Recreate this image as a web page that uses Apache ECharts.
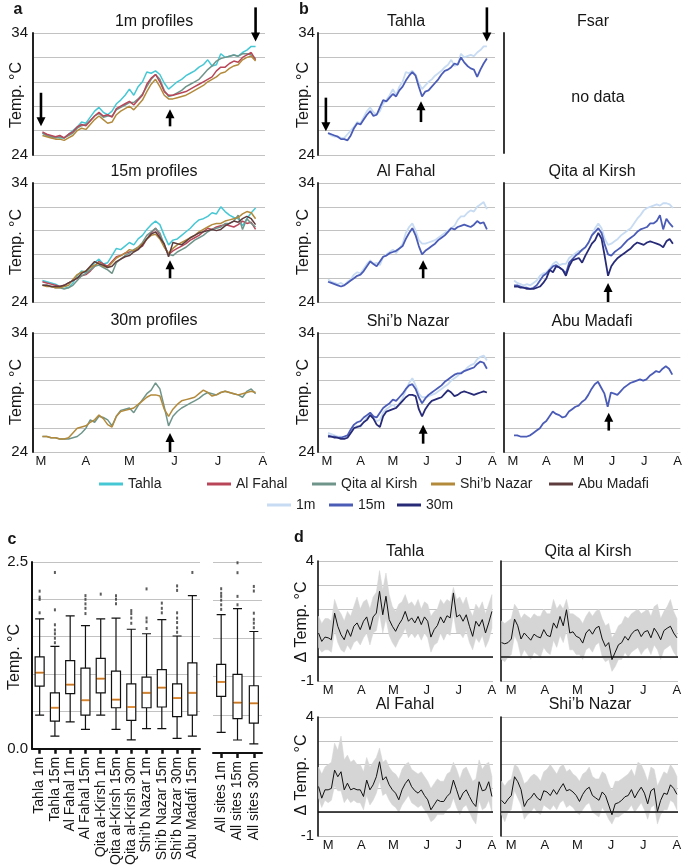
<!DOCTYPE html>
<html><head><meta charset="utf-8">
<script src="https://cdn.jsdelivr.net/npm/echarts@6/dist/echarts.min.js"></script>
<style>html,body{margin:0;padding:0;background:#fff}#c{width:685px;height:868px}</style>
</head><body><div id="c"></div>
<script>
// ---------- DATA ----------
// day offsets from 1 March (panels a, b)
const days = [1,4,7,10,13,16,19,22,25,28,31,34,37,40,43,46,49,52,55,58,61,64,67,70,73,76,79,82,85,88,91,94,97,100,103,106,109,112,115,118,121,124,127,130,133,136,139,142,145,148];
const tahla1m  = [25.8,25.6,25.5,25.5,25.4,25.4,25.7,26.0,26.3,26.7,26.6,27.1,27.6,27.9,27.5,27.3,27.6,28.2,28.5,28.9,29.4,28.9,29.6,30.0,30.8,30.7,30.9,30.6,29.9,29.4,29.7,30.0,30.2,30.5,30.7,30.9,31.2,31.4,31.8,31.3,31.4,32.3,32.0,32.1,32.2,32.1,32.4,32.6,32.9,32.9];
const tahla15m = [25.8,25.7,25.6,25.5,25.3,25.3,25.2,25.6,26.2,26.6,26.5,26.9,27.3,27.6,27.2,27.3,27.9,28.5,28.4,28.7,29.0,28.8,29.3,29.6,30.1,30.5,30.8,30.5,29.6,28.8,29.2,29.3,29.6,29.9,30.2,30.6,30.9,31.0,31.2,31.5,31.4,32.0,31.6,31.3,31.1,31.0,30.4,31.0,31.5,31.9];
const fahal1m  = [25.9,25.7,25.6,25.5,25.6,25.4,25.7,25.9,26.3,26.5,26.4,26.8,27.2,27.5,27.2,27.3,27.1,27.8,28.0,28.2,28.4,28.1,28.5,28.9,29.8,30.3,30.6,30.0,29.2,28.9,28.9,29.0,29.1,29.2,29.4,29.6,29.8,30.0,30.2,30.4,30.9,31.2,31.2,31.5,31.7,31.6,32.0,32.2,32.4,31.8];
const fahal15m = [25.7,25.6,25.5,25.4,25.3,25.4,25.6,25.8,26.0,26.2,26.3,26.6,27.0,27.4,27.2,27.0,27.4,27.8,27.9,28.1,28.2,28.3,28.5,28.7,29.3,29.8,30.2,29.6,28.7,28.0,28.3,28.5,28.7,28.9,29.2,29.4,29.6,29.9,30.2,30.1,30.3,30.4,30.5,30.4,30.3,30.5,30.8,30.6,30.7,30.1];
const qita1m   = [25.8,25.6,25.5,25.4,25.5,25.4,25.6,25.8,26.2,26.4,26.5,26.8,27.2,27.4,27.1,27.2,27.2,27.7,27.9,28.1,28.3,28.3,28.6,29.0,29.6,30.2,30.6,30.2,29.3,28.8,28.9,29.1,29.3,29.6,29.8,30.0,30.2,30.6,31.0,31.3,31.7,31.9,32.0,32.1,32.2,32.1,32.3,32.3,32.2,31.9];
const qita15m  = [25.4,25.4,25.3,25.2,25.2,25.1,25.2,25.4,25.8,26.2,26.4,26.7,27.0,27.1,26.9,26.7,26.4,27.3,27.6,27.9,28.1,28.4,28.6,29.0,29.6,29.9,30.2,29.8,28.8,28.0,27.9,28.2,28.4,28.6,28.9,29.2,29.4,29.6,29.9,30.1,30.2,30.3,30.6,30.6,30.8,31.3,30.1,31.0,30.6,30.3];
const qita30m  = [25.3,25.3,25.2,25.2,25.1,25.1,25.1,25.2,25.3,25.6,26.0,26.7,26.5,27.0,26.9,26.7,26.2,27.0,27.5,27.6,27.7,27.3,27.9,28.4,28.9,29.2,29.8,29.3,27.8,26.2,27.0,27.4,27.7,27.9,28.1,28.3,28.5,28.8,29.0,28.9,28.8,29.0,29.1,29.0,28.9,28.8,28.6,29.1,29.3,28.9];
const shib1m   = [25.6,25.5,25.4,25.3,25.3,25.2,25.4,25.6,26.0,26.2,26.1,26.5,26.9,27.2,26.9,26.6,26.7,27.3,27.6,27.8,28.0,27.7,28.1,28.5,29.2,29.8,30.2,29.6,28.9,28.6,28.6,28.7,28.8,28.9,29.1,29.3,29.5,29.7,30.0,30.2,30.4,30.7,30.8,31.1,31.3,31.4,31.8,32.0,32.1,31.7];
const shib15m  = [25.4,25.3,25.3,25.2,25.2,25.3,25.4,25.9,26.3,26.5,26.6,26.9,27.1,27.3,27.0,26.9,27.3,27.7,27.9,28.1,28.4,28.3,28.6,28.9,29.3,29.6,29.7,29.3,28.6,28.1,28.5,28.8,29.0,29.2,29.4,29.6,29.9,30.1,30.3,30.5,30.6,30.6,30.8,30.9,31.0,31.1,31.4,31.6,31.5,31.0];
const shib30m  = [25.3,25.3,25.2,25.2,25.1,25.1,25.2,25.6,26.0,26.1,26.2,26.5,26.7,27.1,26.8,26.3,26.1,27.0,27.4,27.5,27.6,27.7,28.0,28.3,28.6,28.8,28.8,28.7,27.6,27.0,27.6,28.0,28.3,28.4,28.5,28.6,28.9,29.2,29.0,28.7,28.8,29.0,29.1,29.0,28.9,28.8,28.9,29.0,29.1,29.0];
const abu15m   = [25.4,25.4,25.3,25.3,25.3,25.4,25.6,25.8,26.0,26.4,26.6,27.0,27.4,27.2,27.1,26.9,27.0,27.4,27.6,27.8,27.9,28.2,28.4,28.8,29.3,29.7,29.9,29.4,28.9,27.8,29.0,28.9,28.8,29.1,29.4,29.6,29.8,29.9,30.0,30.1,30.0,30.1,30.4,30.6,30.8,30.7,31.0,31.2,31.0,30.5];

const monthTicks  = [0,31,61,92,122,153];
const monthLabels = ['M','A','M','J','J','A'];

// panel c
const boxCats = ['Tahla 1m','Tahla 15m','Al Fahal 1m','Al Fahal 15m','Qita al-Kirsh 1m','Qita al-Kirsh 15m','Qita al-Kirsh 30m','Shi\u2019b Nazar 1m','Shi\u2019b Nazar 15m','Shi\u2019b Nazar 30m','Abu Madafi 15m'];
const boxStats = [
  [0.45,0.84,1.02,1.23,1.74],[0.17,0.37,0.55,0.75,1.37],[0.36,0.74,0.86,1.18,1.78],[0.26,0.45,0.65,1.08,1.65],
  [0.45,0.75,0.94,1.21,1.74],[0.26,0.55,0.66,1.04,1.75],[0.12,0.38,0.56,0.87,1.60],[0.27,0.55,0.75,0.96,1.54],
  [0.27,0.56,0.82,1.06,1.73],[0.14,0.43,0.68,0.87,1.51],[0.17,0.45,0.75,1.15,2.05]];
const boxOutliers = [
  [0,1.82],[0,2.0],[0,2.03],[0,2.11],
  [1,1.42],[1,1.48],[1,1.54],[1,1.59],[1,1.66],[1,1.86],[1,2.36],[1,2.57],
  [3,1.81],[3,1.88],[3,1.94],[3,2.0],[3,2.05],
  [4,2.07],
  [5,1.94],[5,2.0],[5,2.05],
  [6,1.68],[6,1.75],[6,1.81],[6,1.85],
  [7,1.61],[7,1.70],[7,1.75],[7,2.14],
  [8,1.82],[8,1.88],[8,1.95],
  [9,1.56],[9,1.62],[9,1.69],[9,1.75],[9,1.82],[9,2.12],[9,2.18],
  [10,2.36]];
const allCats = ['All sites 1m','All sites 15m','All sites 30m'];
const allStats = [[0.27,0.74,0.93,1.16,1.81],[0.17,0.45,0.66,1.03,1.89],[0.12,0.39,0.65,0.88,1.59]];
const allOutliers = [[0,1.88],[0,1.94],[0,2.0],[0,2.05],[0,2.09],[0,2.15],
  [1,1.94],[1,2.05],[1,2.36],[1,2.49],[1,2.57],
  [2,1.64],[2,1.70],[2,1.75],[2,1.83],[2,2.12],[2,2.18]];

// panel d (day offsets from 1 March)
const dDays = [-9,-6,-3,0,3,6,9,12,15,18,21,24,27,30,33,36,39,42,45,48,51,54,57,60,63,66,69,72,75,78,81,84,87,90,93,96,99,102,105,108,111,114,117,120,123,126,129,132,135,138,141,144,147,150,153];
const dTahla     = [1.0,0.65,0.83,0.8,0.72,1.83,1.28,0.93,0.72,1.14,0.86,1.28,1.42,1.14,1.49,1.67,1.14,1.67,1.83,2.74,1.76,2.53,1.56,1.28,1.07,1.35,1.56,1.9,1.49,1.63,1.42,1.69,1.35,1.67,1.49,0.83,1.14,1.31,1.67,1.42,1.72,1.63,2.67,1.67,1.76,1.49,1.76,1.28,0.86,1.49,1.28,1.56,1.0,1.42,1.9];
const dTahlaHigh = [1.7,1.4,1.6,1.6,1.5,2.4,2.0,1.8,1.5,1.9,1.7,2.1,2.5,2.0,2.3,2.4,2.0,2.5,2.7,3.6,2.8,3.5,2.6,2.1,1.9,2.2,2.3,2.6,2.2,2.3,2.1,2.4,2.0,2.3,2.2,1.7,1.9,2.0,2.4,2.2,2.4,2.3,2.9,2.4,2.5,2.2,2.5,2.0,1.7,2.2,2.0,2.3,1.8,2.2,2.6];
const dTahlaLow  = [0.4,0.2,0.3,0.3,0.2,1.1,0.6,0.3,0.2,0.5,0.3,0.6,0.7,0.5,0.8,1.0,0.5,1.0,1.1,1.8,1.0,1.6,0.9,0.6,0.4,0.7,0.9,1.2,0.8,1.0,0.8,1.0,0.7,1.0,0.8,0.2,0.5,0.6,1.0,0.7,1.0,0.9,1.8,1.0,1.0,0.8,1.1,0.6,0.3,0.8,0.6,0.9,0.4,0.7,1.2];
const dQita      = [0.6,0.55,0.6,0.75,1.58,1.3,0.75,1.0,0.85,0.7,0.95,0.85,0.8,1.14,0.9,0.85,1.42,1.2,1.69,1.3,1.97,1.0,1.05,0.86,0.8,0.58,1.0,1.15,0.95,1.2,1.28,0.75,0.44,0.6,-0.11,0.2,0.51,0.6,0.86,0.7,0.95,1.1,1.14,0.85,1.05,1.1,0.8,1.2,1.0,0.72,1.1,1.2,1.28,1.0,0.8];
const dQitaHigh  = [1.5,1.4,1.5,1.6,2.2,2.0,1.6,1.8,1.7,1.6,1.8,1.7,1.7,2.0,1.8,1.8,2.4,2.0,2.2,2.0,2.4,1.8,1.8,1.7,1.6,1.4,1.7,1.9,1.7,1.9,2.0,1.6,1.3,1.4,0.8,1.0,1.3,1.4,1.7,1.6,1.8,1.9,2.0,1.8,1.9,2.0,1.7,2.1,2.2,1.6,1.9,2.1,2.4,1.9,1.6];
const dQitaLow   = [-0.1,-0.2,0.0,0.1,0.9,0.6,0.0,0.3,0.1,-0.1,0.2,0.1,0.0,0.4,0.2,0.1,0.7,0.4,0.9,0.6,1.1,0.3,0.3,0.1,0.1,-0.1,0.3,0.4,0.2,0.5,0.6,0.0,-0.2,-0.1,-0.6,-0.4,-0.1,-0.1,0.2,0.0,0.2,0.3,0.4,0.1,0.3,0.4,0.1,0.5,0.3,-0.1,0.3,0.4,0.5,0.2,0.0];
const dFahal     = [1.08,0.59,0.94,0.94,1.0,1.77,1.49,1.7,0.94,1.22,0.94,1.0,0.94,0.94,0.66,1.35,0.94,1.15,1.49,2.12,1.35,1.49,1.15,0.94,0.8,0.52,0.94,1.2,1.38,1.07,0.9,0.8,0.94,0.7,0.52,0.1,0.31,0.52,0.45,0.45,0.66,0.8,1.35,0.94,0.52,0.8,0.94,0.66,0.4,0.24,1.28,0.9,0.94,1.28,0.66];
const dFahalHigh = [1.9,1.6,1.9,2.0,2.1,2.9,2.6,3.2,2.2,2.4,2.1,2.2,2.0,2.0,1.7,2.3,1.9,2.1,2.3,2.7,2.1,2.2,1.9,1.7,1.6,1.4,1.8,2.0,2.1,1.8,1.7,1.6,1.7,1.5,1.3,1.0,1.2,1.4,1.3,1.3,1.6,1.7,2.1,1.8,1.4,1.8,1.9,1.6,1.3,1.4,2.2,1.8,2.0,2.1,1.5];
const dFahalLow  = [0.6,0.2,0.5,0.4,0.5,1.1,0.9,0.9,0.4,0.6,0.4,0.5,0.4,0.4,0.1,0.7,0.3,0.5,0.8,1.3,0.7,0.8,0.5,0.3,0.2,0.0,0.3,0.5,0.7,0.4,0.3,0.2,0.3,0.1,-0.1,-0.4,-0.3,-0.1,-0.1,-0.1,0.1,0.2,0.6,0.2,-0.1,0.2,0.3,0.0,-0.3,-0.5,0.5,0.1,0.2,0.5,0.0];
const dShib      = [0.5,0.35,0.55,0.7,1.49,1.28,0.95,0.24,0.5,0.6,0.8,0.6,0.5,0.9,0.85,0.7,0.95,0.75,1.0,1.2,0.9,0.95,0.85,0.7,0.45,0.75,0.95,1.05,0.7,0.6,0.5,0.85,0.7,0.3,-0.11,0.35,0.4,0.5,0.65,0.7,0.95,0.6,0.85,1.05,0.8,0.35,0.9,1.0,0.03,0.5,0.8,0.75,1.15,1.0,0.75];
const dShibHigh  = [1.3,1.1,1.3,1.4,2.0,1.9,1.6,1.2,1.3,1.5,1.6,1.5,1.3,1.7,1.8,2.0,1.8,1.6,1.9,2.0,1.7,1.8,1.6,1.5,1.3,1.6,1.7,1.9,1.5,1.4,1.4,1.7,1.6,1.2,0.9,1.3,1.3,1.4,1.5,1.6,1.8,1.5,2.1,2.0,1.7,1.3,1.9,1.8,1.1,1.4,1.7,1.6,2.0,1.8,1.5];
const dShibLow   = [-0.1,-0.4,0.0,0.1,0.9,0.6,0.3,-0.3,-0.1,0.0,0.2,0.0,-0.1,0.3,0.2,0.1,0.3,0.1,0.4,0.5,0.2,0.3,0.2,0.0,-0.1,0.1,0.3,0.4,0.0,-0.1,-0.2,0.2,0.0,-0.3,-0.5,-0.2,-0.2,-0.1,0.0,0.1,0.3,0.0,0.2,0.4,0.1,-0.3,0.2,0.3,-0.5,-0.1,0.1,0.1,0.5,0.4,0.1];

// ---------- STYLE / LAYOUT ----------
const FONT = '"Liberation Sans", Arial, sans-serif';
const INK = '#151515';
const GRIDC = '#c2c2c2';
const COL = {tahla:'#46c7d4', fahal:'#b84658', qita:'#6f958b', shib:'#b38a3b', abu:'#5e3c3d', m1:'#c7dbf2', m15:'#4b5cb7', m30:'#272b77'};

const grids = [], xAxes = [], yAxes = [], series = [];
function addGrid(g, x, y) { grids.push(g); const i = grids.length - 1; xAxes.push(Object.assign({gridIndex: i}, x)); yAxes.push(Object.assign({gridIndex: i}, y)); return i; }

function monthX(min, max, show) {
  return {type:'value', min, max, axisLine:{show:false, onZero:false}, axisTick:{show:false}, splitLine:{show:false},
    axisLabel:{show:show, customValues:monthTicks, formatter:v => monthLabels[monthTicks.indexOf(v)] || '', margin:3, fontSize:13, color:INK, fontFamily:FONT}};
}
function tempY(showLabels, margin, aw) {
  return {type:'value', min:24, max:34, interval:2,
    axisLine:{show:true, onZero:false, lineStyle:{color:'#222', width:aw}}, axisTick:{show:false},
    splitLine:{show:true, lineStyle:{color:GRIDC, width:1.2}},
    axisLabel:{show:showLabels, margin:margin, fontSize:15, color:INK, fontFamily:FONT, formatter:v => (v === 34 || v === 24) ? String(v) : ''}};
}
function line(name, gi, xs, ys, color, w) {
  return {type:'line', name, xAxisIndex:gi, yAxisIndex:gi, data:xs.map((x, i) => [x, ys[i]]),
    symbol:'none', showSymbol:false, lineStyle:{color, width:w}, itemStyle:{color}, clip:true, animation:false};
}

// panel a
const aX = [-5.5, 154.5];
const gA1 = addGrid({left:33, top:33, width:232, height:122}, monthX(aX[0], aX[1], false), tempY(true, 5, 2));
const gA2 = addGrid({left:33, top:183, width:232, height:119}, monthX(aX[0], aX[1], false), tempY(true, 5, 2));
const gA3 = addGrid({left:33, top:333, width:232, height:119}, monthX(aX[0], aX[1], true), tempY(true, 5, 2));
series.push(line('Tahla', gA1, days, tahla1m, COL.tahla, 1.5));
series.push(line('Qita al Kirsh', gA1, days, qita1m, COL.qita, 1.5));
series.push(line('Al Fahal', gA1, days, fahal1m, COL.fahal, 1.5));
series.push(line('Shi\u2019b Nazar', gA1, days, shib1m, COL.shib, 1.5));
series.push(line('Tahla', gA2, days, tahla15m, COL.tahla, 1.5));
series.push(line('Al Fahal', gA2, days, fahal15m, COL.fahal, 1.5));
series.push(line('Qita al Kirsh', gA2, days, qita15m, COL.qita, 1.5));
series.push(line('Shi\u2019b Nazar', gA2, days, shib15m, COL.shib, 1.5));
series.push(line('Abu Madafi', gA2, days, abu15m, COL.abu, 1.5));
series.push(line('Qita al Kirsh', gA3, days, qita30m, COL.qita, 1.5));
series.push(line('Shi\u2019b Nazar', gA3, days, shib30m, COL.shib, 1.5));

// panel b
const bX = [-8.3, 155.5];
const gBT = addGrid({left:318, top:33, width:177, height:122}, monthX(bX[0], bX[1], false), tempY(true, 3, 1.8));
const gBF = addGrid({left:504, top:33, width:177, height:120}, {type:'value', show:false, min:0, max:1},
  {type:'value', min:0, max:1, axisLine:{show:true, onZero:false, lineStyle:{color:'#222', width:1.8}}, axisTick:{show:false}, axisLabel:{show:false}, splitLine:{show:false}});
const gBA = addGrid({left:318, top:183, width:177, height:119}, monthX(bX[0], bX[1], false), tempY(true, 3, 1.8));
const gBQ = addGrid({left:504, top:183, width:177, height:119}, monthX(bX[0], bX[1], false), tempY(false, 3, 1.8));
const gBS = addGrid({left:318, top:333, width:177, height:119}, monthX(bX[0], bX[1], true), tempY(true, 3, 1.8));
const gBM = addGrid({left:504, top:333, width:177, height:119}, monthX(bX[0], bX[1], true), tempY(false, 3, 1.8));
series.push(line('1m', gBT, days, tahla1m, COL.m1, 1.8));
series.push(line('15m', gBT, days, tahla15m, COL.m15, 1.8));
series.push(line('1m', gBA, days, fahal1m, COL.m1, 1.8));
series.push(line('15m', gBA, days, fahal15m, COL.m15, 1.8));
series.push(line('1m', gBQ, days, qita1m, COL.m1, 1.8));
series.push(line('15m', gBQ, days, qita15m, COL.m15, 1.8));
series.push(line('30m', gBQ, days, qita30m, COL.m30, 1.8));
series.push(line('1m', gBS, days, shib1m, COL.m1, 1.8));
series.push(line('15m', gBS, days, shib15m, COL.m15, 1.8));
series.push(line('30m', gBS, days, shib30m, COL.m30, 1.8));
series.push(line('15m', gBM, days, abu15m, COL.m15, 1.8));

// panel c
function boxX(cats) {
  return {type:'category', data:cats, axisLine:{show:true, onZero:false, lineStyle:{color:'#111', width:2}},
    axisTick:{show:true, alignWithLabel:true, length:5, lineStyle:{color:'#111', width:2.5}},
    axisLabel:{interval:0, rotate:90, margin:8, fontSize:14, color:INK, fontFamily:FONT}, splitLine:{show:false}};
}
function boxY(showAxis) {
  return {type:'value', min:0, max:2.5, interval:0.5,
    axisLine:{show:showAxis, onZero:false, lineStyle:{color:'#111', width:2}}, axisTick:{show:false},
    splitLine:{show:true, lineStyle:{color:GRIDC, width:1.2}},
    axisLabel:{show:showAxis, margin:4, fontSize:15, color:INK, fontFamily:FONT, formatter:v => (v === 0 || v === 2.5) ? v.toFixed(1) : ''}};
}
const gC1 = addGrid({left:32, top:562, width:168, height:191}, boxX(boxCats), boxY(true));
const gC2 = addGrid({left:213, top:562, width:49, height:191}, boxX(allCats), boxY(false));
function boxSeries(gi, stats, outl) {
  series.push({type:'boxplot', xAxisIndex:gi, yAxisIndex:gi, data:stats, boxWidth:[9, 9],
    itemStyle:{color:'#fff', borderColor:'#111', borderWidth:1.2}, animation:false, z:3});
  series.push({type:'scatter', xAxisIndex:gi, yAxisIndex:gi, data:stats.map((s, i) => [i, s[2]]),
    symbol:'rect', symbolSize:[8, 2], itemStyle:{color:'#f7922a'}, animation:false, z:5});
  series.push({type:'scatter', xAxisIndex:gi, yAxisIndex:gi, data:outl,
    symbol:'rect', symbolSize:[2, 3], itemStyle:{color:'#333'}, animation:false, z:4});
}
boxSeries(gC1, boxStats, boxOutliers);
boxSeries(gC2, allStats, allOutliers);

// panel d
const dX = [-9.5, 154];
function dY() {
  return {type:'value', min:-1, max:4, interval:1,
    axisLine:{show:true, onZero:false, lineStyle:{color:'#111', width:1.6}}, axisTick:{show:false},
    splitLine:{show:true, lineStyle:{color:GRIDC, width:1.2}},
    axisLabel:{show:true, margin:4, fontSize:15, color:INK, fontFamily:FONT, formatter:v => (v === 4 || v === -1) ? String(v) : ''}};
}
function dYright() { const y = dY(); y.axisLabel.show = false; return y; }
const gDT = addGrid({left:318, top:561, width:175, height:120}, monthX(dX[0], dX[1], true), dY());
const gDQ = addGrid({left:501, top:561, width:177, height:120}, monthX(dX[0], dX[1], true), dYright());
const gDA = addGrid({left:318, top:717, width:175, height:119}, monthX(dX[0], dX[1], true), dY());
const gDS = addGrid({left:501, top:717, width:177, height:119}, monthX(dX[0], dX[1], true), dYright());
function deltaPanel(gi, ln, lo, hi) {
  // grey min–max band, drawn as one polygon through the axis scales
  series.push({type:'custom', xAxisIndex:gi, yAxisIndex:gi, silent:true, animation:false, z:1, clip:true,
    data:dDays.map((d, i) => [d, lo[i], hi[i]]), encode:{x:0, y:[1, 2]},
    renderItem:(params, api) => {
      if (params.dataIndex !== 0) return null;
      const top = dDays.map((d, i) => api.coord([d, hi[i]]));
      const bot = dDays.map((d, i) => api.coord([d, lo[i]])).reverse();
      return {type:'polygon', shape:{points:top.concat(bot)}, style:{fill:'#d5d5d5', stroke:'#d5d5d5', lineWidth:0.5}};
    }});
  series.push({type:'line', xAxisIndex:gi, yAxisIndex:gi, symbol:'none', data:dDays.map((d, i) => [d, ln[i]]),
    lineStyle:{color:'#111', width:1}, animation:false, z:3,
    markLine:{silent:true, symbol:'none', label:{show:false}, lineStyle:{color:'#111', width:1.6, type:'solid'}, data:[{yAxis:0}], animation:false}});
}
deltaPanel(gDT, dTahla, dTahlaLow, dTahlaHigh);
deltaPanel(gDQ, dQita, dQitaLow, dQitaHigh);
deltaPanel(gDA, dFahal, dFahalLow, dFahalHigh);
deltaPanel(gDS, dShib, dShibLow, dShibHigh);

// legends
function leg(name, left, top) {
  return {data:[name], left, top, icon:'rect', itemWidth:24, itemHeight:3, padding:0, selectedMode:false,
    textStyle:{fontSize:14, color:'#222', fontFamily:FONT}};
}
const legends = [leg('Tahla', 99, 477), leg('Al Fahal', 207, 477), leg('Qita al Kirsh', 312, 477), leg('Shi\u2019b Nazar', 431, 477), leg('Abu Madafi', 549, 477),
  leg('1m', 267, 498), leg('15m', 329, 498), leg('30m', 397, 498)];

const chart = echarts.init(document.getElementById('c'), null, {renderer:'canvas'});
chart.setOption({animation:false, backgroundColor:'#fff', grid:grids, xAxis:xAxes, yAxis:yAxes, legend:legends, series});

// ---------- annotations ----------
function txt(text, x, y, size, bold, rot) {
  const el = {type:'text', x, y, z:100, style:{text, fontSize:size, fontFamily:FONT, fontWeight:bold ? 'bold' : 'normal', fill:INK, align:'center', verticalAlign:'middle'}};
  if (rot) el.rotation = Math.PI / 2;
  return el;
}
const texts = [
  txt('a', 18, 10, 16, true), txt('b', 304, 10, 16, true), txt('c', 12, 540, 16, true), txt('d', 299, 538, 16, true),
  txt('1m profiles', 154, 22, 16), txt('15m profiles', 154, 172, 16), txt('30m profiles', 154, 321, 16),
  txt('Tahla', 406, 22, 16), txt('Fsar', 593, 22, 16), txt('no data', 598, 98, 16),
  txt('Al Fahal', 406, 172, 16), txt('Qita al Kirsh', 592, 172, 16),
  txt('Shi\u2019b Nazar', 408, 322, 16), txt('Abu Madafi', 592, 322, 16),
  txt('Tahla', 405, 552, 16), txt('Qita al Kirsh', 588, 552, 16), txt('Al Fahal', 405, 705, 16), txt('Shi\u2019b Nazar', 590, 705, 16),
  txt('Temp. \u00b0C', 17, 95, 16, false, true), txt('Temp. \u00b0C', 17, 242, 16, false, true), txt('Temp. \u00b0C', 17, 392, 16, false, true),
  txt('Temp. \u00b0C', 304, 95, 16, false, true), txt('Temp. \u00b0C', 304, 242, 16, false, true), txt('Temp. \u00b0C', 304, 392, 16, false, true),
  txt('Temp. \u00b0C', 15, 657, 16, false, true),
  txt('\u0394 Temp. \u00b0C', 302, 622, 16, false, true), txt('\u0394 Temp. \u00b0C', 302, 775, 16, false, true)
];
// arrows: [grid, day, from value, to value]
const arrows = [[gA1, 0, 29.1, 26.35], [gA1, 148, 36.1, 33.3], [gA1, 89, 26.35, 27.75], [gA2, 89, 26.0, 27.5], [gA3, 89, 24.0, 25.6],
  [gBT, -1, 28.7, 25.95], [gBT, 148, 36.1, 33.3], [gBT, 87, 26.7, 28.4], [gBA, 89, 26.0, 27.5], [gBQ, 88, 24.0, 25.6], [gBS, 89, 24.7, 26.3], [gBM, 89, 25.8, 27.3]];
const arrowEls = [];
arrows.forEach(a => {
  const p1 = chart.convertToPixel({gridIndex:a[0]}, [a[1], a[2]]);
  const p2 = chart.convertToPixel({gridIndex:a[0]}, [a[1], a[3]]);
  const dx = p2[0] - p1[0], dy = p2[1] - p1[1], len = Math.hypot(dx, dy);
  const ux = dx / len, uy = dy / len, L = 9, W = 4.5;
  const bx = p2[0] - ux * L, by = p2[1] - uy * L;
  arrowEls.push({type:'line', z:100, shape:{x1:p1[0], y1:p1[1], x2:bx + ux, y2:by + uy}, style:{stroke:'#000', lineWidth:2.6}});
  arrowEls.push({type:'polygon', z:100, shape:{points:[[p2[0], p2[1]], [bx - uy * W, by + ux * W], [bx + uy * W, by - ux * W]]}, style:{fill:'#000'}});
});
chart.setOption({graphic:texts.concat(arrowEls)});
</script>
</body></html>
